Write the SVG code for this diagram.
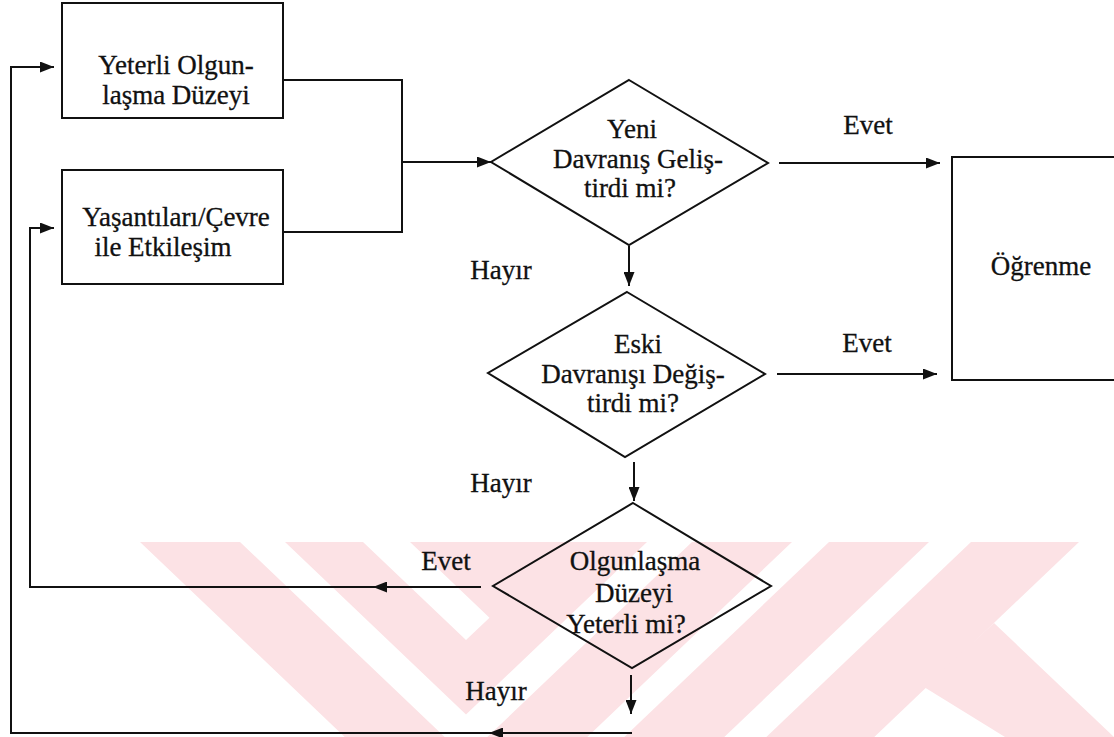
<svg xmlns="http://www.w3.org/2000/svg" width="1114" height="737" viewBox="0 0 1114 737">
  <defs>
    <marker id="arrow" markerUnits="userSpaceOnUse" markerWidth="14" markerHeight="11" refX="14" refY="5.5" orient="auto">
      <path d="M0,0 L14,5.5 L0,11 Z" fill="#111"/>
    </marker>
    <style>
      .shape { fill: none; stroke: #111; stroke-width: 2; }
      .line { fill: none; stroke: #111; stroke-width: 2; }
      .arr { marker-end: url(#arrow); }
      text { font-family: "Liberation Serif", "Times New Roman", serif; font-size: 27px; fill: #111; stroke: #111; stroke-width: 0.3; text-anchor: middle; }
      .mark { fill: #fce2e5; stroke: none; }
    </style>
  </defs>

  <rect width="1114" height="737" fill="#ffffff"/>

  <!-- pale background emblem along the lower edge -->
  <g id="emblem">
    <polygon class="mark" points="140,542 466,852.5 792,542 692,542 466,757.3 240,542"/>
    <polygon class="mark" points="285,542 466,714.4 647,542 410,542 489.5,617.7 466,640 363,542"/>
    <polygon class="mark" points="829,542 929,542 724.3,737 624.3,737"/>
    <polygon class="mark" points="971,542 1079,542 874.3,737 766.3,737"/>
    <polygon class="mark" points="924,687 994,623 1114,737 1005,737"/>
  </g>

  <!-- connectors -->
  <g id="connectors">
    <!-- both inputs merge into the first decision -->
    <path class="line" d="M283,80 H402 V232 H283"/>
    <path class="line arr" d="M402,162 H491"/>
    <!-- yes branches to learning -->
    <path class="line arr" d="M779,163 H940"/>
    <path class="line arr" d="M777,374 H937"/>
    <!-- no branches downward -->
    <path class="line arr" d="M629,246 V286"/>
    <path class="line arr" d="M634,462 V501"/>
    <path class="line arr" d="M631,675 V714"/>
    <!-- maturity sufficient: back to experiences -->
    <path class="line arr" d="M481,587 H373"/>
    <path class="line arr" d="M373,587 H30 V228 H54"/>
    <!-- maturity insufficient: back to maturity level -->
    <path class="line arr" d="M632,733 H489"/>
    <path class="line arr" d="M489,733 H11 V67 H54"/>
  </g>

  <g id="maturity-level">
    <rect class="shape" x="62" y="3" width="221" height="115"/>
    <text x="176" y="74">Yeterli Olgun-</text>
    <text x="176" y="104">laşma Düzeyi</text>
  </g>

  <g id="experiences">
    <rect class="shape" x="62" y="170" width="221" height="114"/>
    <text x="176" y="226">Yaşantıları/Çevre</text>
    <text x="163" y="256">ile Etkileşim</text>
  </g>

  <g id="new-behaviour">
    <polygon class="shape" points="629,80 768,163 629,245 491,162"/>
    <text x="632" y="138">Yeni</text>
    <text x="638" y="168">Davranış Geliş-</text>
    <text x="630" y="197">tirdi mi?</text>
  </g>

  <g id="changed-behaviour">
    <polygon class="shape" points="627,292 765,374 625,457 488,373"/>
    <text x="638" y="353">Eski</text>
    <text x="633" y="383">Davranışı Değiş-</text>
    <text x="633" y="412">tirdi mi?</text>
  </g>

  <g id="maturity-check">
    <polygon class="shape" points="633,503 771,586 632,668 493,586"/>
    <text x="635" y="570">Olgunlaşma</text>
    <text x="634" y="602">Düzeyi</text>
    <text x="626" y="633">Yeterli mi?</text>
  </g>

  <g id="learning">
    <rect class="shape" x="952" y="157" width="200" height="223"/>
    <text x="1041" y="275">Öğrenme</text>
  </g>

  <g id="labels">
    <text x="868" y="134">Evet</text>
    <text x="867" y="352">Evet</text>
    <text x="446" y="570">Evet</text>
    <text x="501" y="279">Hayır</text>
    <text x="501" y="492">Hayır</text>
    <text x="496" y="700">Hayır</text>
  </g>
</svg>
